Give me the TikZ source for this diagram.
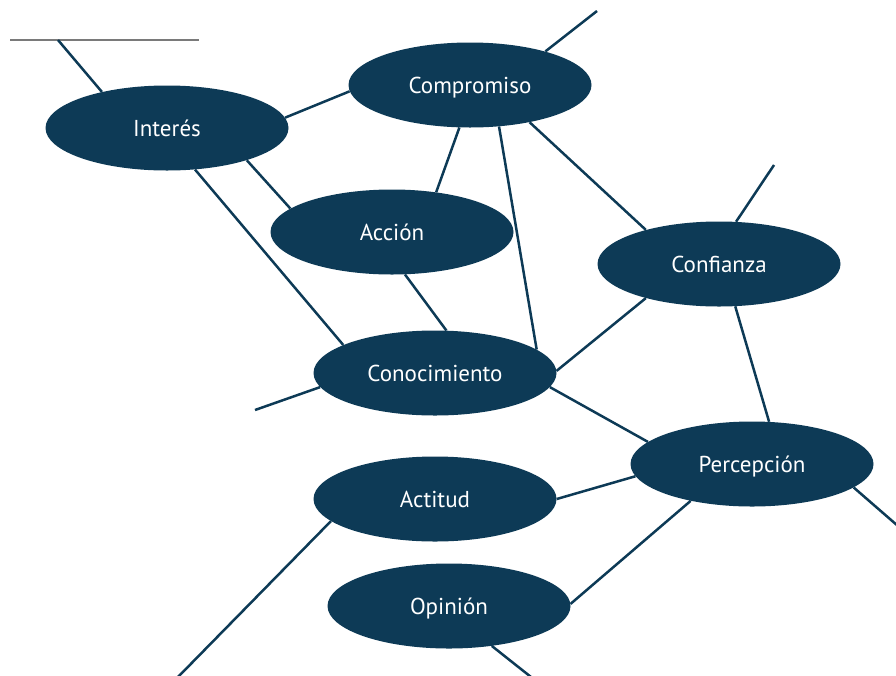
\documentclass[tikz,border=0pt]{standalone}
\usepackage{fontspec}
\setmainfont{PT Sans}
\usetikzlibrary{shapes.geometric,backgrounds}
\definecolor{navy}{HTML}{0D3A56}
\definecolor{rulegray}{HTML}{7A7A7A}
\tikzset{
  bubble/.style={ellipse, fill=navy, draw=none, minimum width=243pt, minimum height=85pt,
    inner sep=0pt, text=white, text height=16pt, text depth=0pt,
    font=\fontsize{23}{27}\selectfont},
  link/.style={draw=navy, line width=2.5pt},
  toprule/.style={draw=rulegray, line width=2pt}
}
\begin{document}
\begin{tikzpicture}[x=1pt,y=-1pt]
\clip (0,0) rectangle (896,675);
\node[bubble] (int)  at (167,128) {Interés};
\node[bubble] (com)  at (470,85)  {Compromiso};
\node[bubble] (acc)  at (392,232) {Acción};
\node[bubble] (conf) at (719,264) {Confianza};
\node[bubble] (cono) at (435,373) {Conocimiento};
\node[bubble] (perc) at (752,464) {Percepción};
\node[bubble] (act)  at (435,499) {Actitud};
\node[bubble] (opi)  at (449,606) {Opinión};
\coordinate (gL) at (10,40);
\coordinate (gR) at (199,40);
\coordinate (intTop) at (58,40);
\coordinate (comTop) at (597,11);
\coordinate (confTop) at (774,165);
\coordinate (conoL) at (255,410);
\coordinate (actL) at (178,677);
\coordinate (opiB) at (531,677);
\coordinate (percR) at (898,526);
\begin{scope}[on background layer]
\draw[toprule] (gL) -- (gR);
\draw[link] (intTop) -- (int.151);
\draw[link] (int.5) -- (com.183);
\draw[link] (int.338) -- (acc.167);
\draw[link] (int.304) -- (cono.163);
\draw[link] (com.24) -- (comTop);
\draw[link] (com.256) -- (acc.42);
\draw[link] (com.305) -- (cono.13);
\draw[link] (com.328) -- (conf.155);
\draw[link] (conf.68) -- (confTop);
\draw[link] (conf.205) -- (cono.1);
\draw[link] (conf.291) -- (perc.68);
\draw[link] (acc.287) -- (cono.75);
\draw[link] (cono.187) -- (conoL);
\draw[link] (cono.353) -- (perc.168);
\draw[link] (act.0) -- (perc.186);
\draw[link] (act.192) -- (actL);
\draw[link] (opi.1) -- (perc.211);
\draw[link] (opi.317) -- (opiB);
\draw[link] (perc.347) -- (percR);
\end{scope}
\end{tikzpicture}
\end{document}
